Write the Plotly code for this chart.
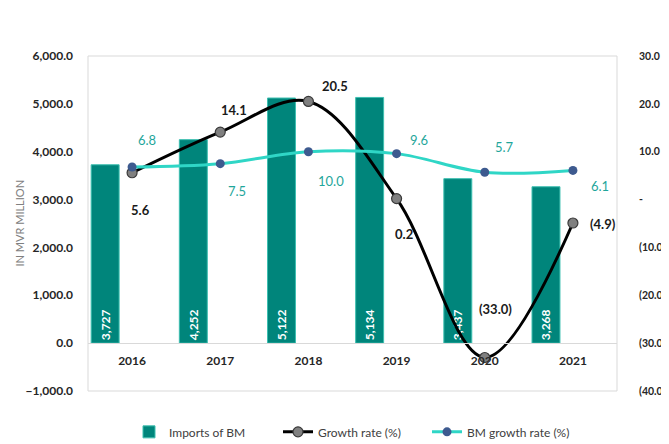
import plotly.graph_objects as go

years = ["2016", "2017", "2018", "2019", "2020", "2021"]
imports_bm = [3727, 4252, 5122, 5134, 3437, 3268]
growth_rate = [5.6, 14.1, 20.5, 0.2, -33.0, -4.9]
bm_growth_rate = [6.8, 7.5, 10.0, 9.6, 5.7, 6.1]

left_ticks = [-1000, 0, 1000, 2000, 3000, 4000, 5000, 6000]
right_ticks = [-40, -30, -20, -10, 0, 10, 20, 30]


def pct_label(v):
    if v == 0:
        return "-"
    if v < 0:
        return "({:.1f})".format(-v)
    return "{:.1f}".format(v)


FONT = "Lato"
TEAL = "#00857B"
CYAN = "#2FD6C6"
DARK = "#404040"

fig = go.Figure()

fig.add_trace(go.Bar(
    x=years, y=imports_bm, name="Imports of BM",
    marker=dict(color=TEAL, line=dict(color="#3DBFB0", width=1)),
    width=0.317, offset=-0.464,
    texttemplate="%{y:,.0f}", textposition="inside", insidetextanchor="start",
    textangle=-90, textfont=dict(color="white", size=12, family=FONT, weight="bold"),
    cliponaxis=False,
))

fig.add_trace(go.Scatter(
    x=years, y=growth_rate, name="Growth rate (%)", yaxis="y2",
    mode="lines+markers", line=dict(color="black", width=3, shape="spline", smoothing=1.0),
    marker=dict(color="#808080", size=10, line=dict(color="#3a3a3a", width=1.2)),
    cliponaxis=False,
))

fig.add_trace(go.Scatter(
    x=years, y=bm_growth_rate, name="BM growth rate (%)", yaxis="y2",
    mode="lines+markers", line=dict(color=CYAN, width=3, shape="spline", smoothing=1.0),
    marker=dict(color="#3D5A8F", size=9),
    cliponaxis=False,
))

growth_offsets = [(8, -37), (14, 22), (27, 15), (7, -35), (11, 49), (30, -1)]
bm_offsets = [(15, 27), (17, -27), (23, -29), (22, 14), (20, 25), (27, -16)]

annotations = []
for i, (v, (dx, dy)) in enumerate(zip(growth_rate, growth_offsets)):
    annotations.append(dict(x=i, y=v, xref="x", yref="y2", text=pct_label(v),
                            showarrow=False, xshift=dx, yshift=dy,
                            font=dict(family=FONT, size=13, color="#1a1a1a", weight="bold")))
for i, (v, (dx, dy)) in enumerate(zip(bm_growth_rate, bm_offsets)):
    annotations.append(dict(x=i, y=v, xref="x", yref="y2", text=pct_label(v),
                            showarrow=False, xshift=dx, yshift=dy,
                            font=dict(family=FONT, size=13, color="#1FA69B")))

annotations.append(dict(x=0, y=0.5, xref="paper", yref="paper", text="IN MVR MILLION",
                        xshift=-69, xanchor="center", yanchor="middle", textangle=-90,
                        showarrow=False,
                        font=dict(family=FONT, size=11, color="#808080")))
annotations.append(dict(x=1.0, y=0.5, xref="paper", yref="paper", text="(%)",
                        xshift=44, xanchor="left", yanchor="middle", textangle=-90,
                        showarrow=False,
                        font=dict(family=FONT, size=11, color="#808080")))

fig.update_layout(
    width=661, height=436,
    margin=dict(l=80, r=52, t=48, b=53, autoexpand=False),
    paper_bgcolor="white", plot_bgcolor="white",
    font=dict(family=FONT, color=DARK),
    showlegend=True,
    legend=dict(orientation="h", x=0.5, xanchor="center", y=-0.122, yanchor="middle",
                font=dict(family=FONT, size=12, color=DARK), traceorder="normal",
                entrywidth=104, entrywidthmode="pixels"),
    xaxis=dict(type="category", anchor="free", position=(1000 / 7000), automargin=False,
               showline=True, linecolor="#d9d9d9", linewidth=1, ticks="",
               showgrid=False, ticklabelstandoff=6,
               tickfont=dict(family=FONT, size=12, color="#262626", weight="bold"),
               range=[-0.5, 5.5]),
    yaxis=dict(range=[-1000, 6000], tickvals=left_ticks, tickformat=",.1f", automargin=False,
               showgrid=False, zeroline=False, showline=False, ticks="",
               ticklabelstandoff=14,
               tickfont=dict(family=FONT, size=12, color="#262626", weight="bold")),
    yaxis2=dict(range=[-40, 30], tickvals=right_ticks, automargin=False,
                ticktext=[pct_label(v) for v in right_ticks],
                overlaying="y", side="right", showgrid=False, zeroline=False,
                showline=False, ticks="", ticklabelstandoff=21,
                tickfont=dict(family=FONT, size=10.5, color="#262626", weight="bold")),
    annotations=annotations,
    shapes=[dict(type="rect", xref="paper", yref="paper", x0=0, x1=1, y0=0, y1=1,
                 line=dict(color="#d9d9d9", width=1), layer="below")],
)

fig.write_html("out.html")
